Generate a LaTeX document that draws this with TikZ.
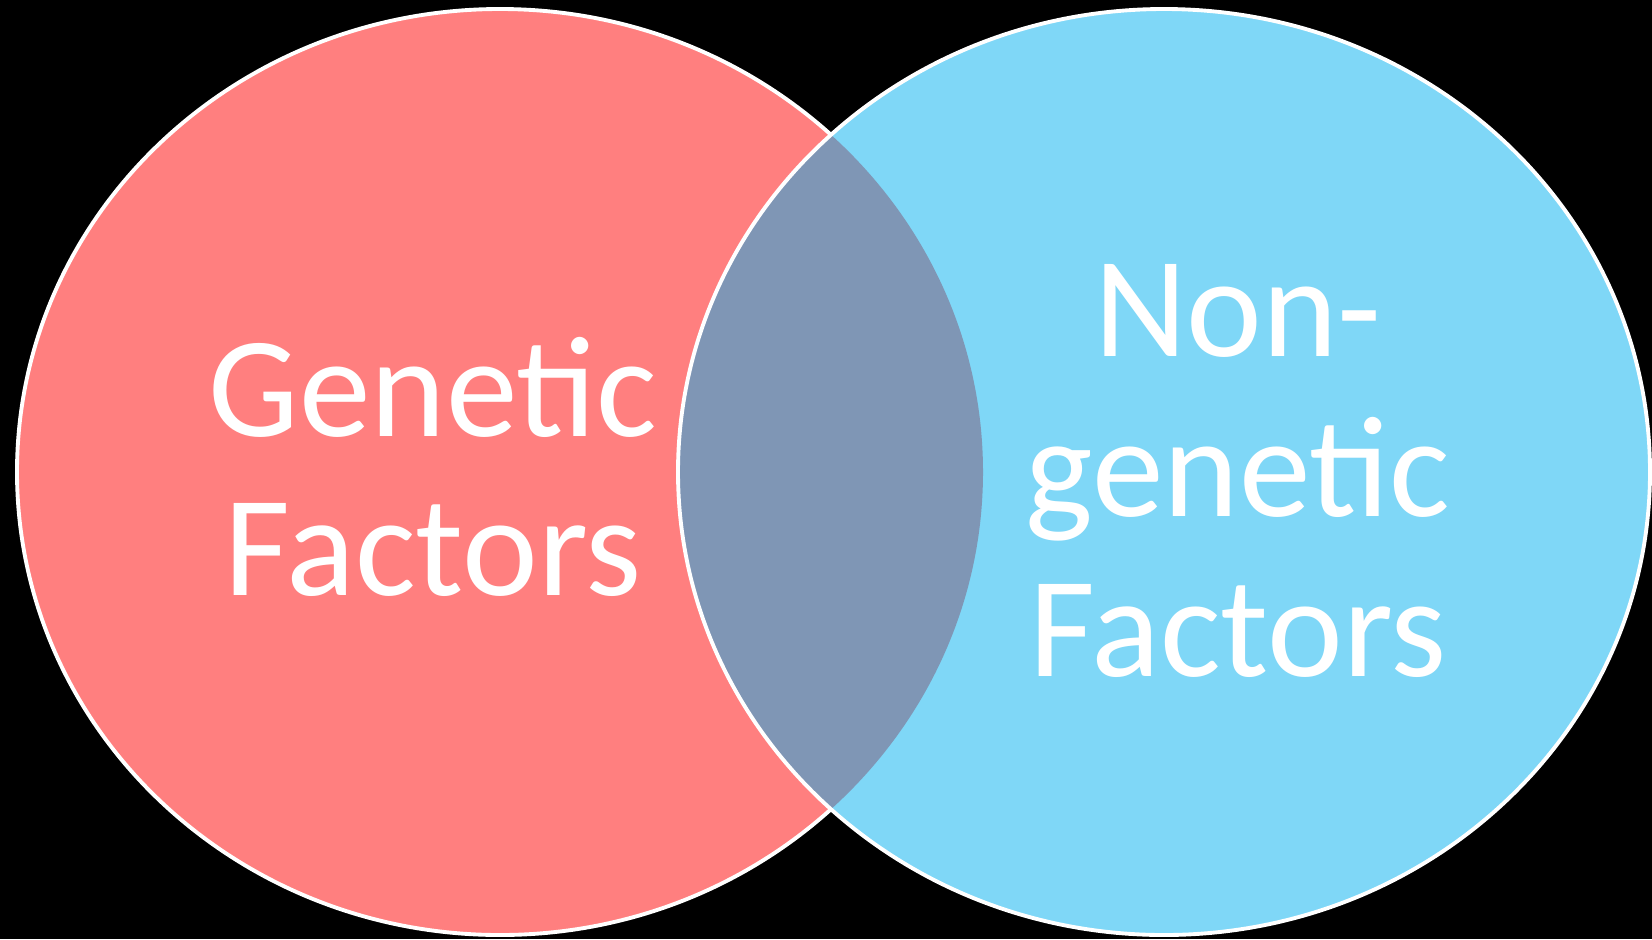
\documentclass[tikz,border=0pt]{standalone}
\usepackage{fontspec}
\setmainfont{Carlito}
\definecolor{redc}{HTML}{FF7F7F}
\definecolor{bluec}{HTML}{7FD7F7}
\definecolor{overc}{HTML}{7F96B5}
\begin{document}
\begin{tikzpicture}[x=0.01cm,y=-0.01cm,
  outline/.style={draw=white,line width=1.1pt},
  label/.style={text=white,align=center,inner sep=0pt,font=\fontsize{40.8}{45.4}\selectfont}]
\fill[black] (0,0) rectangle (1652,939);
\useasboundingbox (0,0) rectangle (1652,939);
% left ellipse
\path[fill=redc,outline] (500,472) ellipse [x radius=483, y radius=463];
% right ellipse fill
\fill[bluec] (1164,472) ellipse [x radius=486, y radius=463];
% overlap
\begin{scope}
  \clip (500,472) ellipse [x radius=483, y radius=463];
  \fill[overc] (1164,472) ellipse [x radius=486, y radius=463];
\end{scope}
\draw[outline] (1164,472) ellipse [x radius=486, y radius=463];
\node[label] (gen) at (433,467) {Genetic\\Factors};
\node[label] (nongen) at (1238,471) {Non-\\genetic\\Factors};
\end{tikzpicture}
\end{document}
